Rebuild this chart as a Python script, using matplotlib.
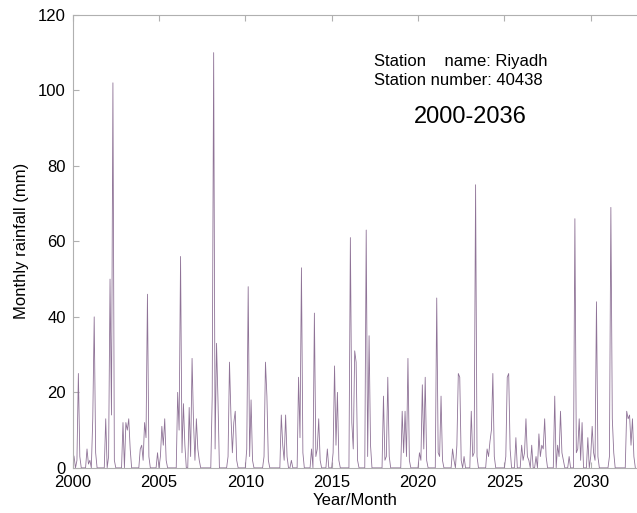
import numpy as np
import matplotlib.pyplot as plt

plt.rcParams['font.family'] = ['Liberation Sans', 'DejaVu Sans']

# monthly rainfall (mm), Riyadh station 40438, one row per year (Jan..Dec)
rain_2000s = [
    4, 3, 0, 2, 25, 3, 0, 0, 0, 0, 5, 1,        # 2000
    2, 0, 13, 40, 4, 0, 0, 0, 0, 0, 0, 13,      # 2001
    0, 3, 50, 14, 102, 2, 0, 0, 0, 0, 0, 12,    # 2002
    0, 12, 10, 13, 5, 0, 0, 0, 0, 0, 0, 5,      # 2003
    6, 2, 12, 8, 46, 3, 0, 0, 0, 0, 0, 4,       # 2004
    0, 3, 11, 6, 13, 2, 0, 0, 0, 0, 0, 0,       # 2005
    0, 20, 10, 56, 4, 17, 6, 0, 0, 16, 3, 29,   # 2006
    12, 2, 13, 5, 2, 0, 0, 0, 0, 0, 0, 0,       # 2007
    0, 19, 110, 5, 33, 18, 0, 0, 0, 0, 0, 0,    # 2008
    3, 28, 14, 4, 12, 15, 2, 0, 0, 0, 0, 0,     # 2009
]
rain_2010s = [
    0, 5, 48, 3, 18, 2, 0, 0, 0, 0, 0, 0,       # 2010
    0, 3, 28, 19, 2, 0, 0, 0, 0, 0, 0, 0,       # 2011
    0, 14, 6, 2, 14, 3, 0, 0, 2, 0, 0, 0,       # 2012
    0, 24, 8, 53, 4, 0, 0, 0, 0, 0, 5, 0,       # 2013
    41, 3, 5, 13, 2, 0, 0, 0, 0, 5, 0, 0,       # 2014
    0, 4, 27, 6, 20, 2, 0, 0, 0, 0, 0, 0,       # 2015
    0, 61, 12, 5, 31, 28, 2, 0, 0, 0, 0, 0,     # 2016
    63, 3, 35, 6, 0, 0, 0, 0, 0, 0, 0, 0,       # 2017
    19, 2, 3, 24, 3, 0, 0, 0, 0, 0, 0, 0,       # 2018
    0, 15, 4, 15, 3, 29, 2, 0, 0, 0, 0, 0,      # 2019
]
rain_2020s = [
    0, 4, 2, 22, 5, 24, 2, 0, 0, 0, 0, 0,       # 2020
    0, 45, 4, 3, 19, 2, 0, 0, 0, 0, 0, 0,       # 2021
    5, 2, 0, 6, 25, 24, 2, 0, 3, 0, 0, 0,       # 2022
    0, 15, 3, 4, 75, 3, 0, 0, 0, 0, 0, 0,       # 2023
    5, 3, 7, 10, 25, 3, 0, 0, 0, 0, 0, 0,       # 2024
    0, 3, 24, 25, 5, 0, 0, 0, 8, 0, 0, 0,       # 2025
    6, 2, 4, 13, 3, 2, 0, 6, 0, 0, 3, 0,        # 2026
    9, 3, 6, 5, 13, 3, 0, 0, 0, 0, 0, 19,       # 2027
    0, 6, 3, 15, 4, 2, 0, 0, 0, 3, 0, 0,        # 2028
    0, 66, 4, 5, 13, 2, 12, 0, 0, 0, 8, 0,      # 2029
]
rain_2030s = [
    3, 11, 4, 2, 44, 3, 0, 0, 0, 0, 0, 0,       # 2030
    0, 3, 69, 13, 4, 0, 0, 0, 0, 0, 0, 0,       # 2031
    0, 15, 13, 14, 6, 13, 3, 0,                 # 2032
]

rain = np.array(rain_2000s + rain_2010s + rain_2020s + rain_2030s, dtype=float)
t = 2000 + np.arange(len(rain)) / 12.0

fig = plt.figure(figsize=(6.37, 5.13), dpi=100)
ax = fig.add_axes([0.114, 0.088, 0.886, 0.883])

ax.plot(t, rain, color='#8f7397', lw=0.6)

ax.set_xlim(2000, 2032.68)
ax.set_ylim(0, 120)
ax.set_xticks([2000, 2005, 2010, 2015, 2020, 2025, 2030])
ax.set_yticks([0, 20, 40, 60, 80, 100, 120])

for s in ['left', 'bottom', 'top']:
    ax.spines[s].set_color('#b0b0b0')
ax.spines['right'].set_visible(False)
ax.tick_params(direction='in', top=True, right=False, length=4,
               color='#b0b0b0', labelsize=12, pad=5)

ax.set_xlabel('Year/Month', fontsize=12, labelpad=2)
ax.set_ylabel('Monthly rainfall (mm)', fontsize=12, labelpad=6)

W, H = 637, 513
fig.text(374 / W, 1 - 65.7 / H, 'Station    name: Riyadh', fontsize=12, va='baseline')
fig.text(374 / W, 1 - 85 / H, 'Station number: 40438', fontsize=12, va='baseline')
fig.text(470 / W, 1 - 123.3 / H, '2000-2036', fontsize=17, va='baseline', ha='center')

fig.savefig('out.png', dpi=100)
